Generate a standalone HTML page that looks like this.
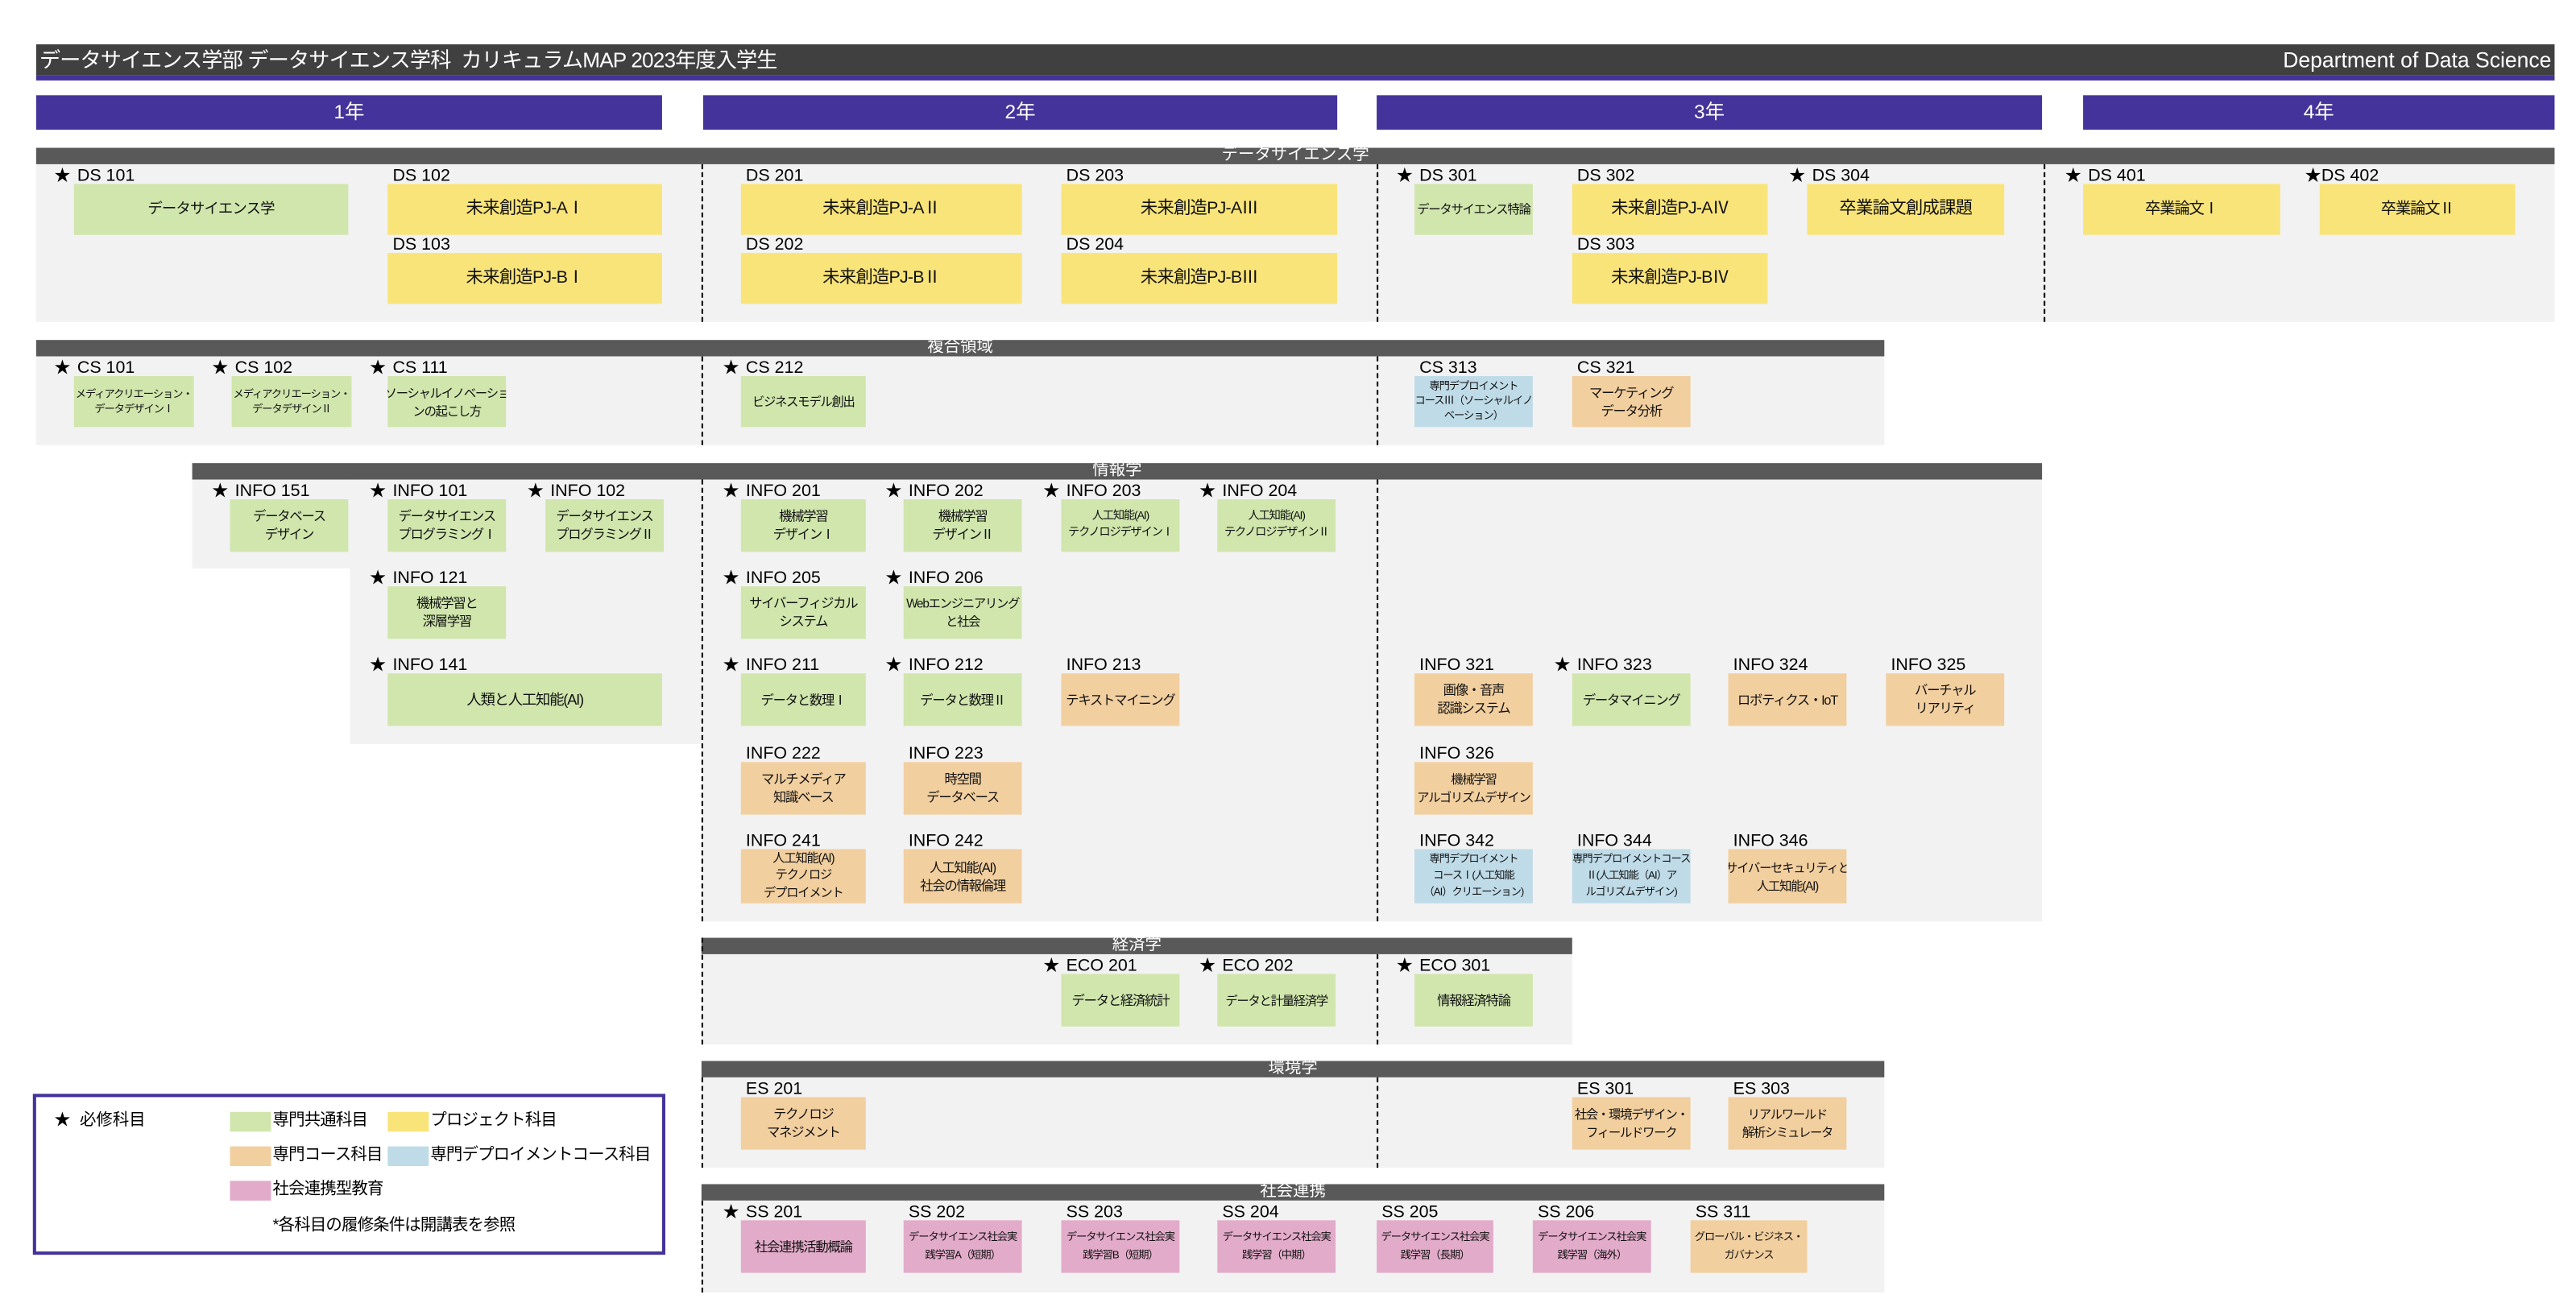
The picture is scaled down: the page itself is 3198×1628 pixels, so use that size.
<!DOCTYPE html>
<html><head><meta charset="utf-8">
<style>
html,body{margin:0;padding:0;background:#fff;}
body{width:3198px;height:1626px;overflow:hidden;position:relative;}
#w{position:absolute;left:0;top:0;width:1568px;height:798px;transform:scale(2.0395);transform-origin:0 0;font-family:"Liberation Sans","Noto Sans CJK JP",sans-serif;}
#w div{position:absolute;box-sizing:border-box;}
.hd{background:#595959;height:10px;color:#fff;font-size:10px;line-height:9px;text-align:center;white-space:nowrap;}
.bd{background:#f2f2f2;}
.dl{width:0;border-left:1.2px dashed #000;}
.l{font-size:10.5px;line-height:12px;white-space:nowrap;color:#000;margin-top:1px;}
.l span{display:inline-block;width:14px;font-size:10px;}
.b{display:flex;align-items:center;justify-content:center;text-align:center;font-size:8px;line-height:11px;letter-spacing:-0.6px;white-space:nowrap;overflow:hidden;color:#111;}
.t{font-size:6.5px;line-height:9px;letter-spacing:-0.5px;}
.L{font-size:10.5px;letter-spacing:-0.4px;}
.g{background:#d0e6ad}.y{background:#f9e47a}.o{background:#f2cf9f}.c{background:#bfdbe8}.p{background:#e2abc9}
.yr{background:#44339a;color:#fff;font-size:12px;height:21px;top:58px;line-height:21px;text-align:center;}
</style></head><body><div id="w">
<div style="left:22px;top:27px;width:1533px;height:19px;background:#404040;"></div>
<div style="left:22px;top:45.5px;width:1533px;height:3.5px;background:#44339a;"></div>
<div style="left:24px;top:27px;height:19px;line-height:19px;color:#fff;font-size:12.8px;letter-spacing:-0.4px;white-space:nowrap;">データサイエンス学部 データサイエンス学科&nbsp; カリキュラムMAP 2023年度入学生</div>
<div style="left:1300px;width:253px;top:27px;height:19px;line-height:19px;color:#fff;font-size:13px;text-align:right;white-space:nowrap;">Department of Data Science</div>
<div class="yr" style="left:22px;width:381px;">1年</div>
<div class="yr" style="left:428px;width:386px;">2年</div>
<div class="yr" style="left:838px;width:405px;">3年</div>
<div class="yr" style="left:1268px;width:287px;">4年</div>

<div class="hd" style="left:22px;top:90px;width:1533px;">データサイエンス学</div>
<div class="bd" style="left:22px;top:100px;width:1533px;height:96px;"></div>
<div class="dl" style="left:427px;top:100px;height:96px;"></div>
<div class="dl" style="left:838px;top:100px;height:96px;"></div>
<div class="dl" style="left:1244px;top:100px;height:96px;"></div>

<div class="hd" style="left:22px;top:207px;width:1125px;">複合領域</div>
<div class="bd" style="left:22px;top:217px;width:1125px;height:54px;"></div>
<div class="dl" style="left:427px;top:217px;height:54px;"></div>
<div class="dl" style="left:838px;top:217px;height:54px;"></div>

<div class="hd" style="left:117px;top:282px;width:1126px;">情報学</div>
<div class="bd" style="left:117px;top:292px;width:311px;height:54px;"></div>
<div class="bd" style="left:213px;top:292px;width:215px;height:161px;"></div>
<div class="bd" style="left:427px;top:292px;width:816px;height:269px;"></div>
<div class="dl" style="left:427px;top:292px;height:269px;"></div>
<div class="dl" style="left:838px;top:292px;height:269px;"></div>

<div class="hd" style="left:427px;top:571px;width:530px;">経済学</div>
<div class="bd" style="left:427px;top:581px;width:530px;height:55px;"></div>
<div class="dl" style="left:427px;top:571px;height:65px;"></div>
<div class="dl" style="left:838px;top:581px;height:55px;"></div>

<div class="hd" style="left:427px;top:646px;width:720px;">環境学</div>
<div class="bd" style="left:427px;top:656px;width:720px;height:55px;"></div>
<div class="dl" style="left:427px;top:656px;height:55px;"></div>
<div class="dl" style="left:838px;top:656px;height:55px;"></div>

<div class="hd" style="left:427px;top:721px;width:720px;">社会連携</div>
<div class="bd" style="left:427px;top:731px;width:720px;height:56px;"></div>
<div class="dl" style="left:427px;top:731px;height:56px;"></div>

<div class="l" style="left:33px;top:100px;"><span>★</span>DS 101</div>
<div class="b g L" style="left:45px;top:112px;width:167px;height:31px;font-size:9px;">データサイエンス学</div>
<div class="l" style="left:225px;top:100px;"><span></span>DS 102</div>
<div class="b y L" style="left:236px;top:112px;width:167px;height:31px;">未来創造PJ-AⅠ</div>
<div class="l" style="left:225px;top:142px;"><span></span>DS 103</div>
<div class="b y L" style="left:236px;top:154px;width:167px;height:31px;">未来創造PJ-BⅠ</div>
<div class="l" style="left:440px;top:100px;"><span></span>DS 201</div>
<div class="b y L" style="left:451px;top:112px;width:171px;height:31px;">未来創造PJ-AⅡ</div>
<div class="l" style="left:440px;top:142px;"><span></span>DS 202</div>
<div class="b y L" style="left:451px;top:154px;width:171px;height:31px;">未来創造PJ-BⅡ</div>
<div class="l" style="left:635px;top:100px;"><span></span>DS 203</div>
<div class="b y L" style="left:646px;top:112px;width:168px;height:31px;">未来創造PJ-AⅢ</div>
<div class="l" style="left:635px;top:142px;"><span></span>DS 204</div>
<div class="b y L" style="left:646px;top:154px;width:168px;height:31px;">未来創造PJ-BⅢ</div>
<div class="l" style="left:850px;top:100px;"><span>★</span>DS 301</div>
<div class="b g" style="left:861px;top:112px;width:72px;height:31px;font-size:7.5px;">データサイエンス特論</div>
<div class="l" style="left:946px;top:100px;"><span></span>DS 302</div>
<div class="b y L" style="left:957px;top:112px;width:119px;height:31px;">未来創造PJ-AⅣ</div>
<div class="l" style="left:946px;top:142px;"><span></span>DS 303</div>
<div class="b y L" style="left:957px;top:154px;width:119px;height:31px;">未来創造PJ-BⅣ</div>
<div class="l" style="left:1089px;top:100px;"><span>★</span>DS 304</div>
<div class="b y L" style="left:1100px;top:112px;width:120px;height:31px;">卒業論文創成課題</div>
<div class="l" style="left:1257px;top:100px;"><span>★</span>DS 401</div>
<div class="b y" style="left:1268px;top:112px;width:120px;height:31px;font-size:9.5px;">卒業論文Ⅰ</div>
<div class="l" style="left:1403px;top:100px;"><span style="width:10px">★</span>DS 402</div>
<div class="b y" style="left:1412px;top:112px;width:119px;height:31px;font-size:9.5px;">卒業論文Ⅱ</div>

<div class="l" style="left:33px;top:217px;"><span>★</span>CS 101</div>
<div class="b g t" style="left:45px;top:229px;width:73px;height:31px;">メディアクリエーション・<br>データデザインⅠ</div>
<div class="l" style="left:129px;top:217px;"><span>★</span>CS 102</div>
<div class="b g t" style="left:141px;top:229px;width:73px;height:31px;">メディアクリエーション・<br>データデザインⅡ</div>
<div class="l" style="left:225px;top:217px;"><span>★</span>CS 111</div>
<div class="b g" style="left:236px;top:229px;width:72px;height:31px;font-size:7.5px;">ソーシャルイノベーショ<br>ンの起こし方</div>
<div class="l" style="left:440px;top:217px;"><span>★</span>CS 212</div>
<div class="b g" style="left:451px;top:229px;width:76px;height:31px;font-size:7.5px;">ビジネスモデル創出</div>
<div class="l" style="left:850px;top:217px;"><span></span>CS 313</div>
<div class="b c t" style="left:861px;top:229px;width:72px;height:31px;">専門デプロイメント<br>コースⅢ（ソーシャルイノ<br>ベーション）</div>
<div class="l" style="left:946px;top:217px;"><span></span>CS 321</div>
<div class="b o" style="left:957px;top:229px;width:72px;height:31px;">マーケティング<br>データ分析</div>

<div class="l" style="left:129px;top:292px;"><span>★</span>INFO 151</div>
<div class="b g" style="left:140px;top:304px;width:72px;height:32px;">データベース<br>デザイン</div>
<div class="l" style="left:225px;top:292px;"><span>★</span>INFO 101</div>
<div class="b g" style="left:236px;top:304px;width:72px;height:32px;">データサイエンス<br>プログラミングⅠ</div>
<div class="l" style="left:321px;top:292px;"><span>★</span>INFO 102</div>
<div class="b g" style="left:332px;top:304px;width:72px;height:32px;">データサイエンス<br>プログラミングⅡ</div>
<div class="l" style="left:440px;top:292px;"><span>★</span>INFO 201</div>
<div class="b g" style="left:451px;top:304px;width:76px;height:32px;">機械学習<br>デザインⅠ</div>
<div class="l" style="left:539px;top:292px;"><span>★</span>INFO 202</div>
<div class="b g" style="left:550px;top:304px;width:72px;height:32px;">機械学習<br>デザインⅡ</div>
<div class="l" style="left:635px;top:292px;"><span>★</span>INFO 203</div>
<div class="b g" style="left:646px;top:304px;width:72px;height:32px;font-size:7px;line-height:10px;">人工知能(AI)<br>テクノロジデザインⅠ</div>
<div class="l" style="left:730px;top:292px;"><span>★</span>INFO 204</div>
<div class="b g" style="left:741px;top:304px;width:72px;height:32px;font-size:7px;line-height:10px;">人工知能(AI)<br>テクノロジデザインⅡ</div>
<div class="l" style="left:225px;top:345px;"><span>★</span>INFO 121</div>
<div class="b g" style="left:236px;top:357px;width:72px;height:32px;">機械学習と<br>深層学習</div>
<div class="l" style="left:440px;top:345px;"><span>★</span>INFO 205</div>
<div class="b g" style="left:451px;top:357px;width:76px;height:32px;">サイバーフィジカル<br>システム</div>
<div class="l" style="left:539px;top:345px;"><span>★</span>INFO 206</div>
<div class="b g" style="left:550px;top:357px;width:72px;height:32px;font-size:7.5px;">Webエンジニアリング<br>と社会</div>
<div class="l" style="left:225px;top:398px;"><span>★</span>INFO 141</div>
<div class="b g" style="left:236px;top:410px;width:167px;height:32px;font-size:9px;">人類と人工知能(AI)</div>
<div class="l" style="left:440px;top:398px;"><span>★</span>INFO 211</div>
<div class="b g" style="left:451px;top:410px;width:76px;height:32px;">データと数理Ⅰ</div>
<div class="l" style="left:539px;top:398px;"><span>★</span>INFO 212</div>
<div class="b g" style="left:550px;top:410px;width:72px;height:32px;">データと数理Ⅱ</div>
<div class="l" style="left:635px;top:398px;"><span></span>INFO 213</div>
<div class="b o" style="left:646px;top:410px;width:72px;height:32px;">テキストマイニング</div>
<div class="l" style="left:850px;top:398px;"><span></span>INFO 321</div>
<div class="b o" style="left:861px;top:410px;width:72px;height:32px;">画像・音声<br>認識システム</div>
<div class="l" style="left:946px;top:398px;"><span>★</span>INFO 323</div>
<div class="b g" style="left:957px;top:410px;width:72px;height:32px;">データマイニング</div>
<div class="l" style="left:1041px;top:398px;"><span></span>INFO 324</div>
<div class="b o" style="left:1052px;top:410px;width:72px;height:32px;">ロボティクス・IoT</div>
<div class="l" style="left:1137px;top:398px;"><span></span>INFO 325</div>
<div class="b o" style="left:1148px;top:410px;width:72px;height:32px;">バーチャル<br>リアリティ</div>
<div class="l" style="left:440px;top:452px;"><span></span>INFO 222</div>
<div class="b o" style="left:451px;top:464px;width:76px;height:32px;">マルチメディア<br>知識ベース</div>
<div class="l" style="left:539px;top:452px;"><span></span>INFO 223</div>
<div class="b o" style="left:550px;top:464px;width:72px;height:32px;">時空間<br>データベース</div>
<div class="l" style="left:850px;top:452px;"><span></span>INFO 326</div>
<div class="b o" style="left:861px;top:464px;width:72px;height:32px;font-size:7.5px;">機械学習<br>アルゴリズムデザイン</div>
<div class="l" style="left:440px;top:505px;"><span></span>INFO 241</div>
<div class="b o" style="left:451px;top:517px;width:76px;height:33px;font-size:7.5px;line-height:10.5px;">人工知能(AI)<br>テクノロジ<br>デプロイメント</div>
<div class="l" style="left:539px;top:505px;"><span></span>INFO 242</div>
<div class="b o" style="left:550px;top:517px;width:72px;height:33px;">人工知能(AI)<br>社会の情報倫理</div>
<div class="l" style="left:850px;top:505px;"><span></span>INFO 342</div>
<div class="b c t" style="left:861px;top:517px;width:72px;height:33px;line-height:10px;">専門デプロイメント<br>コースⅠ(人工知能<br>（AI）クリエーション)</div>
<div class="l" style="left:946px;top:505px;"><span></span>INFO 344</div>
<div class="b c t" style="left:957px;top:517px;width:72px;height:33px;line-height:10px;">専門デプロイメントコース<br>Ⅱ(人工知能（AI）ア<br>ルゴリズムデザイン)</div>
<div class="l" style="left:1041px;top:505px;"><span></span>INFO 346</div>
<div class="b o" style="left:1052px;top:517px;width:72px;height:33px;font-size:7.5px;">サイバーセキュリティと<br>人工知能(AI)</div>

<div class="l" style="left:635px;top:581px;"><span>★</span>ECO 201</div>
<div class="b g" style="left:646px;top:593px;width:72px;height:32px;">データと経済統計</div>
<div class="l" style="left:730px;top:581px;"><span>★</span>ECO 202</div>
<div class="b g" style="left:741px;top:593px;width:72px;height:32px;font-size:7.5px;">データと計量経済学</div>
<div class="l" style="left:850px;top:581px;"><span>★</span>ECO 301</div>
<div class="b g" style="left:861px;top:593px;width:72px;height:32px;">情報経済特論</div>

<div class="l" style="left:440px;top:656px;"><span></span>ES 201</div>
<div class="b o" style="left:451px;top:668px;width:76px;height:32px;">テクノロジ<br>マネジメント</div>
<div class="l" style="left:946px;top:656px;"><span></span>ES 301</div>
<div class="b o" style="left:957px;top:668px;width:72px;height:32px;font-size:7.5px;">社会・環境デザイン・<br>フィールドワーク</div>
<div class="l" style="left:1041px;top:656px;"><span></span>ES 303</div>
<div class="b o" style="left:1052px;top:668px;width:72px;height:32px;font-size:7.5px;">リアルワールド<br>解析シミュレータ</div>

<div class="l" style="left:440px;top:731px;"><span>★</span>SS 201</div>
<div class="b p" style="left:451px;top:743px;width:76px;height:32px;">社会連携活動概論</div>
<div class="l" style="left:539px;top:731px;"><span></span>SS 202</div>
<div class="b p t" style="left:550px;top:743px;width:72px;height:32px;line-height:11px;">データサイエンス社会実<br>践学習A（短期）</div>
<div class="l" style="left:635px;top:731px;"><span></span>SS 203</div>
<div class="b p t" style="left:646px;top:743px;width:72px;height:32px;line-height:11px;">データサイエンス社会実<br>践学習B（短期）</div>
<div class="l" style="left:730px;top:731px;"><span></span>SS 204</div>
<div class="b p t" style="left:741px;top:743px;width:72px;height:32px;line-height:11px;">データサイエンス社会実<br>践学習（中期）</div>
<div class="l" style="left:827px;top:731px;"><span></span>SS 205</div>
<div class="b p t" style="left:838px;top:743px;width:71px;height:32px;line-height:11px;">データサイエンス社会実<br>践学習（長期）</div>
<div class="l" style="left:922px;top:731px;"><span></span>SS 206</div>
<div class="b p t" style="left:933px;top:743px;width:72px;height:32px;line-height:11px;">データサイエンス社会実<br>践学習（海外）</div>
<div class="l" style="left:1018px;top:731px;"><span></span>SS 311</div>
<div class="b o t" style="left:1029px;top:743px;width:71px;height:32px;line-height:11px;">グローバル・ビジネス・<br>ガバナンス</div>

<div style="left:20px;top:666px;width:385px;height:98px;border:2.5px solid #44339a;background:#fff;"></div>
<div style="left:33px;top:677px;font-size:10px;line-height:12px;white-space:nowrap;">★&nbsp; 必修科目</div>
<div class="g" style="left:140px;top:677px;width:25px;height:12px;"></div>
<div style="left:166px;top:677px;font-size:10px;line-height:12px;white-space:nowrap;letter-spacing:-0.4px;">専門共通科目</div>
<div class="y" style="left:236px;top:677px;width:25px;height:12px;"></div>
<div style="left:262px;top:677px;font-size:10px;line-height:12px;white-space:nowrap;letter-spacing:-0.4px;">プロジェクト科目</div>
<div class="o" style="left:140px;top:698px;width:25px;height:12px;"></div>
<div style="left:166px;top:698px;font-size:10px;line-height:12px;white-space:nowrap;letter-spacing:-0.4px;">専門コース科目</div>
<div class="c" style="left:236px;top:698px;width:25px;height:12px;"></div>
<div style="left:262px;top:698px;font-size:10px;line-height:12px;white-space:nowrap;letter-spacing:-0.4px;">専門デプロイメントコース科目</div>
<div class="p" style="left:140px;top:719px;width:25px;height:12px;"></div>
<div style="left:166px;top:719px;font-size:10px;line-height:12px;white-space:nowrap;letter-spacing:-0.4px;">社会連携型教育</div>
<div style="left:166px;top:741px;font-size:10px;line-height:12px;white-space:nowrap;letter-spacing:-0.4px;">*各科目の履修条件は開講表を参照</div>
</div></body></html>
